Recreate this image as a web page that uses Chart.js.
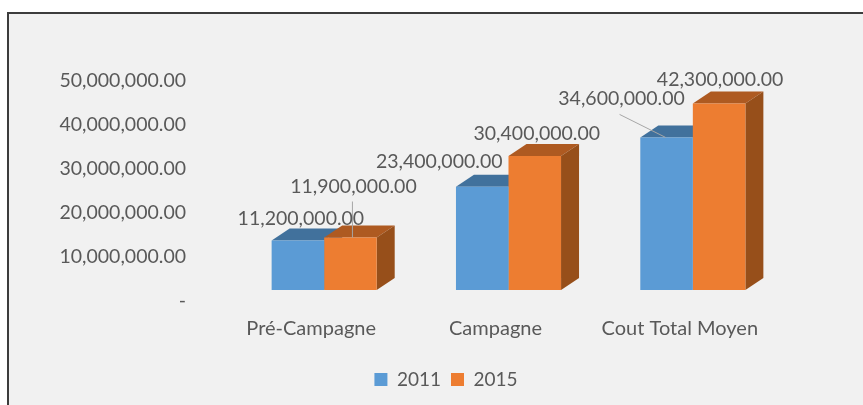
<!DOCTYPE html>
<html>
<head>
<meta charset="utf-8">
<style>
  html, body { margin: 0; padding: 0; background: #fff; overflow: hidden; }
  #frame {
    position: absolute; left: 7px; top: 12px; width: 856px; height: 393px;
    background: #f1f1f1; border-top: 2px solid #3c3c3c; border-left: 2px solid #3c3c3c;
    overflow: hidden;
  }
  #wrap { position: absolute; left: 0; top: 0; width: 854px; height: 391px; }
</style>
</head>
<body>
<div id="frame"><div id="wrap"><canvas id="chart"></canvas></div></div>
<script src="https://cdn.jsdelivr.net/npm/chart.js@4/dist/chart.umd.min.js"></script>
<script>
const categories = ['Pré-Campagne', 'Campagne', 'Cout Total Moyen'];
const values2011 = [11200000, 23400000, 34600000];
const values2015 = [11900000, 30400000, 42300000];
const yTicks = [0, 10000000, 20000000, 30000000, 40000000, 50000000];

// where each value label sits, relative to the top centre of its bar
const labelShift2011 = [[3, -22], [-43, -25], [-45, -39]];
const labelShift2015 = [[3, -51], [2, -22], [1, -24]];

const FONT = 'Lato, "Noto Sans", sans-serif';
const TEXT = '#595959';
const DEPTH_X = 18;
const DEPTH_Y = 12;
const LEGEND_SHIFT = 49;

function shade(ctx, points, color) {
  ctx.fillStyle = color;
  ctx.beginPath();
  points.forEach((p, i) => i ? ctx.lineTo(p[0], p[1]) : ctx.moveTo(p[0], p[1]));
  ctx.closePath();
  ctx.fill();
}

// Side and top faces, drawn behind the normal bars
const depthFaces = {
  id: 'depthFaces',
  beforeDatasetsDraw(chart) {
    const ctx = chart.ctx;
    ctx.save();
    chart.data.datasets.forEach((ds, d) => {
      chart.getDatasetMeta(d).data.forEach(bar => {
        const l = bar.x - bar.width / 2, r = bar.x + bar.width / 2;
        shade(ctx, [[l, bar.y], [l + DEPTH_X, bar.y - DEPTH_Y], [r + DEPTH_X, bar.y - DEPTH_Y], [r, bar.y]], ds.topColor);
        shade(ctx, [[r, bar.y], [r + DEPTH_X, bar.y - DEPTH_Y], [r + DEPTH_X, bar.base - DEPTH_Y], [r, bar.base]], ds.sideColor);
      });
    });
    ctx.restore();
  }
};

// Value labels with the two leader lines
const valueLabels = {
  id: 'valueLabels',
  afterDatasetsDraw(chart) {
    const ctx = chart.ctx;
    const blue = chart.getDatasetMeta(0).data;
    const orange = chart.getDatasetMeta(1).data;
    ctx.save();
    ctx.strokeStyle = '#a6a6a6';
    ctx.lineWidth = 1;
    ctx.beginPath();
    ctx.moveTo(orange[0].x + 2, orange[0].y - 36);
    ctx.lineTo(orange[0].x + 2, orange[0].y);
    ctx.moveTo(blue[2].x - 47, blue[2].y - 23);
    ctx.lineTo(blue[2].x - 1, blue[2].y);
    ctx.stroke();

    ctx.font = '19.5px ' + FONT;
    ctx.fillStyle = TEXT;
    ctx.textAlign = 'center';
    ctx.textBaseline = 'middle';
    const money = v => v.toLocaleString('en-US', { minimumFractionDigits: 2 });
    values2011.forEach((v, i) => {
      ctx.fillText(money(v), blue[i].x + labelShift2011[i][0], blue[i].y + labelShift2011[i][1]);
    });
    values2015.forEach((v, i) => {
      ctx.fillText(money(v), orange[i].x + labelShift2015[i][0], orange[i].y + labelShift2015[i][1]);
    });
    ctx.restore();
  }
};

// The legend sits right of the plot's centre in the reference
const legendShift = {
  id: 'legendShift',
  afterLayout(chart) {
    chart.legend.left += LEGEND_SHIFT;
    chart.legend.right += LEGEND_SHIFT;
  }
};

new Chart(document.getElementById('chart'), {
  type: 'bar',
  data: {
    labels: categories,
    datasets: [
      { label: '2011', data: values2011, backgroundColor: '#5b9bd5', topColor: '#41719c', sideColor: '#41719c' },
      { label: '2015', data: values2015, backgroundColor: '#ed7d31', topColor: '#ae5a21', sideColor: '#974f1a' }
    ]
  },
  options: {
    responsive: true,
    maintainAspectRatio: false,
    animation: false,
    layout: { padding: { left: 0, right: 78, top: 55.5, bottom: 6 } },
    datasets: { bar: { barPercentage: 1, categoryPercentage: 0.57 } },
    scales: {
      x: {
        grid: { display: false },
        border: { display: false },
        ticks: { color: TEXT, font: { family: FONT, size: 20 }, padding: 19, labelOffset: -13, maxRotation: 0 }
      },
      y: {
        min: 0,
        max: 50000000,
        afterBuildTicks(axis) { axis.ticks = yTicks.map(v => ({ value: v })); },
        afterFit(axis) { axis.width = 223; },
        grid: { display: false },
        border: { display: false },
        ticks: {
          color: TEXT,
          font: { family: FONT, size: 19.5 },
          padding: 38,
          labelOffset: 11,
          callback: v => v === 0 ? '-' : v.toLocaleString('en-US', { minimumFractionDigits: 2 })
        }
      }
    },
    plugins: {
      tooltip: { enabled: false },
      legend: {
        position: 'bottom',
        labels: { color: TEXT, font: { family: FONT, size: 19 }, boxWidth: 13, boxHeight: 13, padding: 10 }
      }
    }
  },
  plugins: [depthFaces, valueLabels, legendShift]
});
</script>
</body>
</html>
